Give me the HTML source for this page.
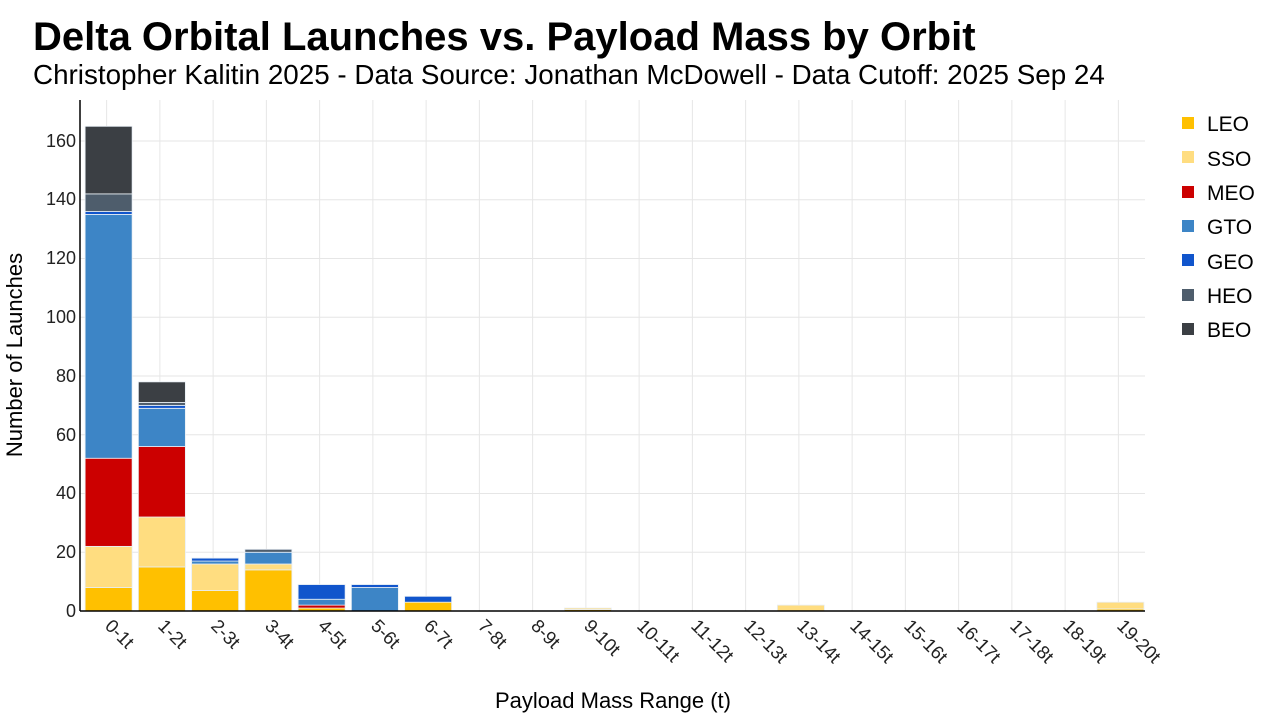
<!DOCTYPE html>
<html><head><meta charset="utf-8"><style>
body{margin:0;background:#fff;width:1280px;height:720px;overflow:hidden;font-family:"Liberation Sans",sans-serif}
</style></head><body>
<svg id="s" width="1280" height="720" xmlns="http://www.w3.org/2000/svg" font-family="Liberation Sans, sans-serif">
<text x="33" y="50" font-size="40" font-weight="bold" fill="#000">Delta Orbital Launches vs. Payload Mass by Orbit</text>
<text x="33" y="84" font-size="27.8" fill="#000">Christopher Kalitin 2025 - Data Source: Jonathan McDowell - Data Cutoff: 2025 Sep 24</text>
<g id="grid"></g>
<g id="bars"></g>
<line x1="80" y1="100" x2="80" y2="611" stroke="#000" stroke-width="1.5"/>
<line x1="80" y1="611" x2="1145" y2="611" stroke="#000" stroke-width="1.5"/>
<g font-size="18" fill="#222" text-anchor="end">
<text x="76" y="617">0</text><text x="76" y="558">20</text><text x="76" y="499">40</text><text x="76" y="441">60</text><text x="76" y="382">80</text><text x="76" y="323">100</text><text x="76" y="264">120</text><text x="76" y="205">140</text><text x="76" y="147">160</text>
</g>
<g font-size="18.5" fill="#222">
<text transform="translate(104,627) rotate(45)">0-1t</text>
<text transform="translate(157,627) rotate(45)">1-2t</text>
<text transform="translate(210,627) rotate(45)">2-3t</text>
<text transform="translate(264,627) rotate(45)">3-4t</text>
<text transform="translate(317,627) rotate(45)">4-5t</text>
<text transform="translate(370,627) rotate(45)">5-6t</text>
<text transform="translate(423,627) rotate(45)">6-7t</text>
<text transform="translate(477,627) rotate(45)">7-8t</text>
<text transform="translate(530,627) rotate(45)">8-9t</text>
<text transform="translate(583,627) rotate(45)">9-10t</text>
<text transform="translate(636,627) rotate(45)">10-11t</text>
<text transform="translate(690,627) rotate(45)">11-12t</text>
<text transform="translate(743,627) rotate(45)">12-13t</text>
<text transform="translate(796,627) rotate(45)">13-14t</text>
<text transform="translate(849,627) rotate(45)">14-15t</text>
<text transform="translate(903,627) rotate(45)">15-16t</text>
<text transform="translate(956,627) rotate(45)">16-17t</text>
<text transform="translate(1009,627) rotate(45)">17-18t</text>
<text transform="translate(1062,627) rotate(45)">18-19t</text>
<text transform="translate(1116,627) rotate(45)">19-20t</text>
</g>
<text x="613" y="708" font-size="22" text-anchor="middle" fill="#000">Payload Mass Range (t)</text>
<text transform="translate(22,355) rotate(-90)" font-size="22" text-anchor="middle" fill="#000">Number of Launches</text>
<g font-size="21" fill="#000">
<rect x="1182" y="117" width="12" height="12" fill="#FFC000"/><text x="1207" y="131">LEO</text>
<rect x="1182" y="151" width="12" height="12" fill="#FFDD80"/><text x="1207" y="166">SSO</text>
<rect x="1182" y="186" width="12" height="12" fill="#CC0000"/><text x="1207" y="200">MEO</text>
<rect x="1182" y="220" width="12" height="12" fill="#3D85C6"/><text x="1207" y="234">GTO</text>
<rect x="1182" y="254" width="12" height="12" fill="#1155CC"/><text x="1207" y="269">GEO</text>
<rect x="1182" y="289" width="12" height="12" fill="#4E5D6C"/><text x="1207" y="303">HEO</text>
<rect x="1182" y="323" width="12" height="12" fill="#3B3F44"/><text x="1207" y="337">BEO</text>
</g>
</svg>
<script>
var NS="http://www.w3.org/2000/svg";
function el(p,t,a){var e=document.createElementNS(NS,t);for(var k in a)e.setAttribute(k,a[k]);p.appendChild(e);return e;}
var g=document.getElementById("grid"),b=document.getElementById("bars");
var y0=611,k=2.9375,w=53.25;
for(var v=20;v<=160;v+=20)el(g,"line",{x1:80,x2:1145,y1:y0-v*k,y2:y0-v*k,stroke:"#e6e6e6","stroke-width":1});
for(var i=0;i<20;i++){var cx=80+w*(i+0.5);el(g,"line",{x1:cx,x2:cx,y1:100,y2:611,stroke:"#e6e6e6","stroke-width":1});}
var col=["#FFC000","#FFDD80","#CC0000","#3D85C6","#1155CC","#4E5D6C","#3B3F44"];
var d={0:[8,14,30,83,1,6,23],1:[15,17,24,13,1,1,7],2:[7,9,0,1,1,0,0],3:[14,2,0,4,0,1,0],4:[1,0,1,2,5,0,0],5:[0,0,0,8,1,0,0],6:[3,0,0,0,2,0,0],9:[0.5,0.5,0,0,0,0,0],13:[0,2,0,0,0,0,0],19:[0.7,2.3,0,0,0,0,0]};
for(var i in d){var cx=82+w*(+i+0.5),acc=0;
 d[i].forEach(function(v,j){if(!v)return;var yt=y0-(acc+v)*k;el(b,"rect",{x:cx-23.5,y:yt,width:47,height:v*k,fill:col[j],stroke:"#e8eef5","stroke-width":0.8});acc+=v;});}
</script>
</body></html>
